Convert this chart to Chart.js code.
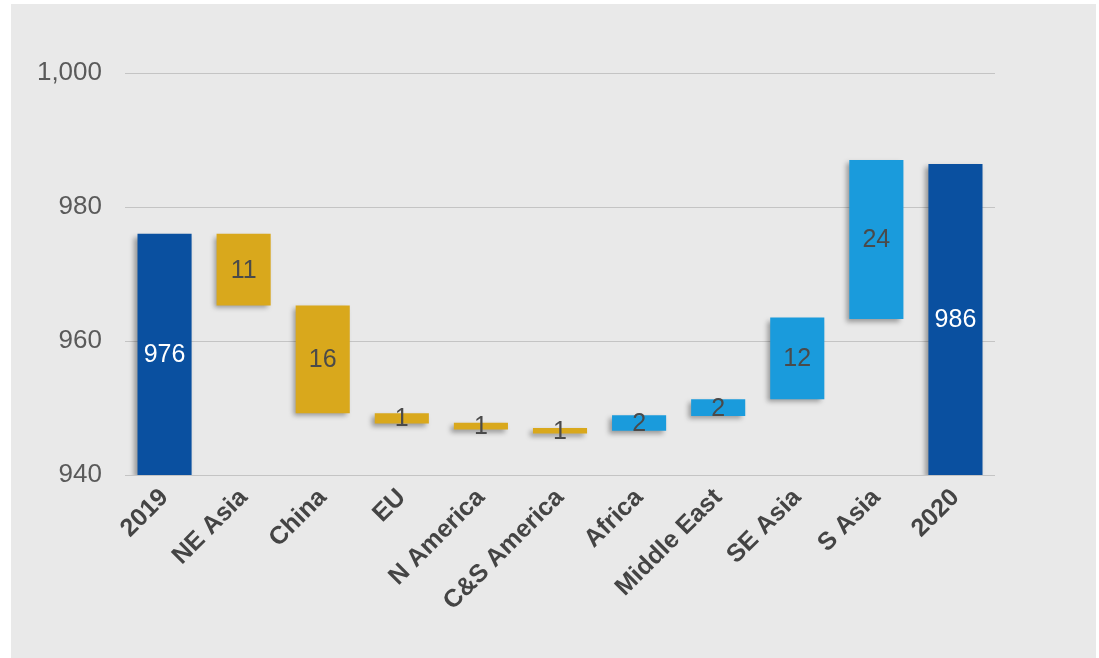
<!DOCTYPE html>
<html>
<head>
<meta charset="utf-8">
<script src="https://cdn.jsdelivr.net/npm/chart.js@4.4.0/dist/chart.umd.min.js"></script>
<style>
  html, body { margin: 0; padding: 0; background: #ffffff; }
  #wrap { position: relative; width: 1099px; height: 658px; }
</style>
</head>
<body>
<div id="wrap"><canvas id="grafica" width="1099" height="658"></canvas></div>
<script>
// datos del grafico (cascada)
const categorias = ['2019', 'NE Asia', 'China', 'EU', 'N America', 'C&S America', 'Africa', 'Middle East', 'SE Asia', 'S Asia', '2020'];
const bajos  = [940, 965.3, 949.2, 947.7, 946.8, 946.2, 946.6, 948.8, 951.3, 963.3, 940];
const altos  = [976, 976, 965.3, 949.2, 947.8, 947.0, 948.9, 951.3, 963.5, 987.0, 986.4];
const etiquetas = ['976', '11', '16', '1', '1', '1', '2', '2', '12', '24', '986'];
const tipos = ['total', 'baja', 'baja', 'baja', 'baja', 'baja', 'sube', 'sube', 'sube', 'sube', 'total'];
const ticksY = [940, 960, 980, 1000];

const colores = { total: '#0a50a0', baja: '#d9a81c', sube: '#1a9bdc' };
const fuente = '"Liberation Sans", Arial, sans-serif';

// fondo gris del panel
const fondo = {
  id: 'fondo',
  beforeDraw(chart) {
    const ctx = chart.ctx;
    ctx.save();
    ctx.fillStyle = '#e9e9e9';
    ctx.fillRect(11, 4, 1085, 654);
    ctx.restore();
  }
};

// sombra de las barras
const sombra = {
  id: 'sombra',
  beforeDatasetDraw(chart) {
    const ctx = chart.ctx;
    ctx.save();
    ctx.shadowColor = 'rgba(0,0,0,0.35)';
    ctx.shadowBlur = 5;
    ctx.shadowOffsetX = -3;
    ctx.shadowOffsetY = 3;
  },
  afterDatasetDraw(chart) {
    chart.ctx.restore();
  }
};

// numeros dentro de las barras
const numeros = {
  id: 'numeros',
  afterDatasetsDraw(chart) {
    const ctx = chart.ctx;
    const meta = chart.getDatasetMeta(0);
    ctx.save();
    ctx.font = '25px ' + fuente;
    ctx.textAlign = 'center';
    ctx.textBaseline = 'middle';
    meta.data.forEach((bar, i) => {
      ctx.fillStyle = tipos[i] === 'total' ? '#ffffff' : '#4a4a4a';
      const y = (bar.y + bar.base) / 2;
      ctx.fillText(etiquetas[i], bar.x, y + 1);
    });
    ctx.restore();
  }
};

const ctx = document.getElementById('grafica').getContext('2d');
const myChart = new Chart(ctx, {
  type: 'bar',
  data: {
    labels: categorias,
    datasets: [{
      data: categorias.map((c, i) => [bajos[i], altos[i]]),
      backgroundColor: tipos.map(t => colores[t]),
      borderWidth: 0,
      barPercentage: 0.76,
      categoryPercentage: 0.9
    }]
  },
  options: {
    responsive: false,
    animation: false,
    layout: { padding: { left: 0, top: 73, right: 104, bottom: 0 } },
    plugins: { legend: { display: false }, tooltip: { enabled: false } },
    scales: {
      x: {
        grid: { display: false },
        border: { display: false },
        ticks: {
          maxRotation: 45, minRotation: 45,
          color: '#444444',
          padding: 0,
          font: { family: fuente, size: 25, weight: 'bold' }
        },
        afterFit(scale) { scale.height = 658 - 475; }
      },
      y: {
        min: 940, max: 1000,
        afterBuildTicks(scale) { scale.ticks = ticksY.map(v => ({ value: v })); },
        grid: { color: '#c4c4c4', lineWidth: 1, drawTicks: false },
        border: { display: false },
        ticks: {
          color: '#5a5a5a',
          padding: 23,
          font: { family: fuente, size: 26 },
          callback: v => v.toLocaleString('en-US')
        },
        afterFit(scale) { scale.width = 125; }
      }
    }
  },
  plugins: [fondo, sombra, numeros]
});
</script>
</body>
</html>
